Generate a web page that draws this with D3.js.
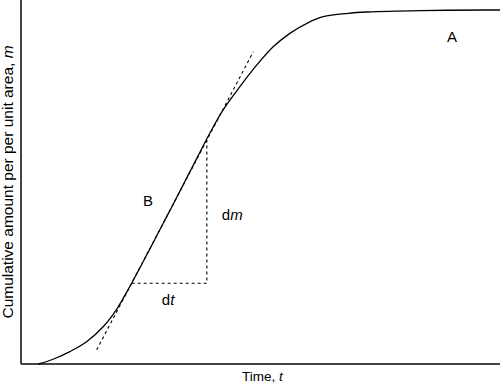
<!DOCTYPE html>
<meta charset="utf-8">
<html>
<head>
  <title>Cumulative amount</title>
</head>
<style>
body { margin: 0; background: #fff; }
.curve { fill: none; stroke: #000; stroke-width: 1.3; }
.dash { fill: none; stroke: #000; stroke-width: 1.1; stroke-dasharray: 3,3; }
.axis-line { stroke: #444; stroke-width: 1.5; shape-rendering: crispEdges; }
text { font-family: "Liberation Sans", Arial, sans-serif; fill: #000; }
</style>
<body>
<svg id="chart" width="502" height="385"></svg>

<script src="https://d3js.org/d3.v7.min.js"></script>
<script>

// curve (time, cumulative amount), arbitrary 0-100 units
var times   = [3.6, 6.7, 10.2, 13.7, 17.2, 20.0, 23.1, 31.1, 36.7, 39.5, 42.2, 45.7, 49.2, 52.7, 56.2, 59.7, 63.1, 68.3, 72.2, 83.3, 97.5, 100];
var amounts = [0, 1.3, 3.4, 6.1, 10.3, 15.1, 22.2, 42.2, 56.5, 63.6, 69.8, 76.2, 82.1, 87.2, 90.9, 93.6, 95.4, 96.35, 96.7, 97.1, 97.25, 97.25];

// tangent at B and its dt / dm triangle
var tangentT = [15.8, 48.5];
var tangentM = [3.9, 85.8];
var triT = [23.1, 38.8, 38.8];
var triM = [22.2, 22.2, 61.5];

var margin = {top: 0, right: 2, bottom: 21, left: 21},
    width = 502 - margin.left - margin.right,
    height = 385 - margin.top - margin.bottom;

var svg = d3.select("#chart")
  .append("g")
    .attr("transform", "translate(" + margin.left + "," + margin.top + ")");

var x = d3.scaleLinear().domain([0, 100]).range([0, width]);
var y = d3.scaleLinear().domain([0, 100]).range([height, 0]);

// axes, plain lines without ticks
svg.append("line").attr("class", "axis-line")
  .attr("x1", x(0)).attr("x2", x(0)).attr("y1", y(0)).attr("y2", y(100));
svg.append("line").attr("class", "axis-line")
  .attr("x1", x(0)).attr("x2", x(100)).attr("y1", y(0)).attr("y2", y(0));

var curve = times.map(function(t, i) { return [t, amounts[i]]; });
var line = d3.line()
  .x(function(d) { return x(d[0]); })
  .y(function(d) { return y(d[1]); })
  .curve(d3.curveCatmullRom.alpha(0.5));

svg.append("path").attr("class", "curve").attr("d", line(curve));

svg.append("path").attr("class", "dash")
  .attr("d", d3.line()(tangentT.map(function(t, i) { return [x(t), y(tangentM[i])]; })));

svg.append("path").attr("class", "dash")
  .attr("d", d3.line()(triT.map(function(t, i) { return [x(t), y(triM[i])]; })));

// labels
svg.append("text").attr("x", x(90)).attr("y", y(88.5)).attr("text-anchor", "middle")
  .style("font-size", "15px").text("A");
svg.append("text").attr("x", x(26.5)).attr("y", y(43.4)).attr("text-anchor", "middle")
  .style("font-size", "15px").text("B");

var dm = svg.append("text").attr("x", x(44.1)).attr("y", y(39.6)).attr("text-anchor", "middle")
  .style("font-size", "15px");
dm.append("tspan").text("d");
dm.append("tspan").style("font-style", "italic").text("m");

var dt = svg.append("text").attr("x", x(30.7)).attr("y", y(16.2)).attr("text-anchor", "middle")
  .style("font-size", "15px");
dt.append("tspan").text("d");
dt.append("tspan").style("font-style", "italic").text("t");

// axis titles
var xt = svg.append("text")
  .attr("x", x(50.4)).attr("y", height + 17)
  .attr("text-anchor", "middle").style("font-size", "13.5px");
xt.append("tspan").text("Time, ");
xt.append("tspan").style("font-style", "italic").text("t");

var yt = svg.append("text")
  .attr("transform", "rotate(-90)")
  .attr("x", -182).attr("y", -8.5)
  .attr("text-anchor", "middle").style("font-size", "15.5px");
yt.append("tspan").text("Cumulative amount per per unit area, ");
yt.append("tspan").style("font-style", "italic").text("m");

</script>
</body>
</html>
